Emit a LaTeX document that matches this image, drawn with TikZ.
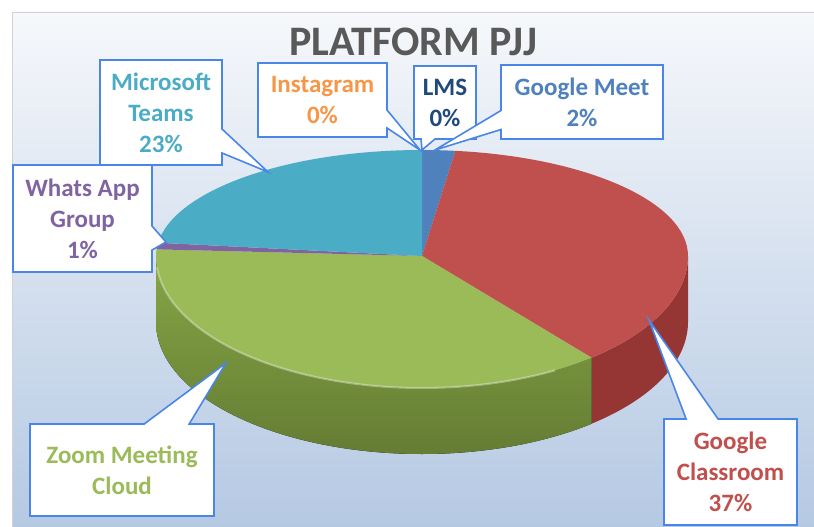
\documentclass[tikz,border=0pt]{standalone}
\usepackage{fontspec}
\setmainfont{Carlito}
\usepackage{xcolor}
\usepackage{tikz}
\usetikzlibrary{calc}
\usetikzlibrary{shapes}
\usetikzlibrary{shapes.callouts}
\usetikzlibrary{positioning}

\definecolor{teams}{HTML}{4BACC6}
\definecolor{wa}{HTML}{8064A2}
\definecolor{zoomc}{HTML}{9BBB59}
\definecolor{zoomside}{HTML}{86A645}
\definecolor{gclass}{HTML}{C0504D}
\definecolor{gclassside}{HTML}{963634}
\definecolor{gmeet}{HTML}{4F81BD}
\definecolor{insta}{HTML}{F79646}
\definecolor{lms}{HTML}{1F497D}
\definecolor{frame}{HTML}{4A86E8}
\definecolor{bgtop}{HTML}{F6F8FB}
\definecolor{bgbot}{HTML}{B5C9E3}
\definecolor{titlec}{HTML}{595959}

\tikzset{>=latex}
\tikzstyle{lbl} = [rectangle callout, draw=frame, fill=white, line width=1.6pt, align=center, inner sep=0pt, font=\bfseries\fontsize{25}{31}\selectfont, callout pointer width=24pt]
\tikzstyle{rf} = [x radius=266, y radius=132]
\tikzstyle{rb} = [x radius=266, y radius=106]

\begin{document}
\begin{tikzpicture}[x=1pt, y=-1pt]
\useasboundingbox (0,0) rectangle (814,527);
\shade [top color=bgtop, bottom color=bgbot] (12,12) rectangle (814,527);
\draw [gray!35, line width=0.8pt] (12,527) -- (12,12) -- (814,12);

\coordinate (O) at (422,256);
\fill [gclassside] (O) ++(0:266 and 132) arc [rf, start angle=0, end angle=50.4] -- ++(0,66) arc [rf, start angle=50.4, end angle=0] -- cycle;
\fill [top color=zoomside, bottom color=zoomside!75!black] (O) ++(50.4:266 and 132) arc [rf, start angle=50.4, end angle=180] -- ++(0,66) arc [rf, start angle=180, end angle=50.4] -- cycle;

\fill [gmeet] (O) -- +(-90:266 and 106) arc [rb, start angle=-90, end angle=-82.8] -- cycle;
\fill [gclass] (O) -- +(-82.8:266 and 106) arc [rb, start angle=-82.8, end angle=0] arc [rf, start angle=0, end angle=50.4] -- cycle;
\fill [zoomc] (O) -- +(50.4:266 and 132) arc [rf, start angle=50.4, end angle=180] arc [rb, start angle=180, end angle=183.6] -- cycle;
\fill [wa] (O) -- +(183.6:266 and 106) arc [rb, start angle=183.6, end angle=187.2] -- cycle;
\fill [teams] (O) -- +(187.2:266 and 106) arc [rb, start angle=187.2, end angle=270] -- cycle;
\draw [white, opacity=0.35, line width=2pt] (O) ++(60:266 and 132) arc [rf, start angle=60, end angle=175];

\node [font=\bfseries\fontsize{42}{50}\selectfont, text=titlec, anchor=base] (P) at (413,56) {PLATFORM PJJ};

\coordinate (tT) at (268,172);
\coordinate (tI) at (420,150);
\coordinate (tL) at (422,150);
\coordinate (tM) at (435,150);
\coordinate (tW) at (166,242);
\coordinate (tZ) at (226,363);
\coordinate (tC) at (649,320);

\node [lbl, text=teams, minimum width=122pt, minimum height=105pt, callout absolute pointer={(tT)}] (T) at (161,112.5) {Microsoft\\Teams\\23\%};
\node [lbl, text=insta, minimum width=129pt, minimum height=74pt, callout pointer width=18pt, callout absolute pointer={(tI)}] (I) at (322.5,100) {Instagram\\0\%};
\node [lbl, text=lms, minimum width=62pt, minimum height=73pt, callout pointer width=14pt, callout absolute pointer={(tL)}] (L) at (445,102.5) {LMS\\0\%};
\node [lbl, text=gmeet, minimum width=162pt, minimum height=74pt, callout pointer width=19pt, callout absolute pointer={(tM)}] (M) at (582,102) {Google Meet\\2\%};
\node [lbl, text=wa, minimum width=139pt, minimum height=107pt, callout absolute pointer={(tW)}] (W) at (82.5,218.5) {Whats App\\Group\\1\%};
\node [lbl, text=zoomc, minimum width=184pt, minimum height=92pt, callout pointer width=45pt, callout absolute pointer={(tZ)}] (Z) at (122,470) {Zoom Meeting\\Cloud};
\node [lbl, text=gclass, minimum width=133pt, minimum height=106pt, callout pointer width=32pt, callout absolute pointer={(tC)}] (C) at (730.5,472) {Google\\Classroom\\37\%};
\end{tikzpicture}
\end{document}
